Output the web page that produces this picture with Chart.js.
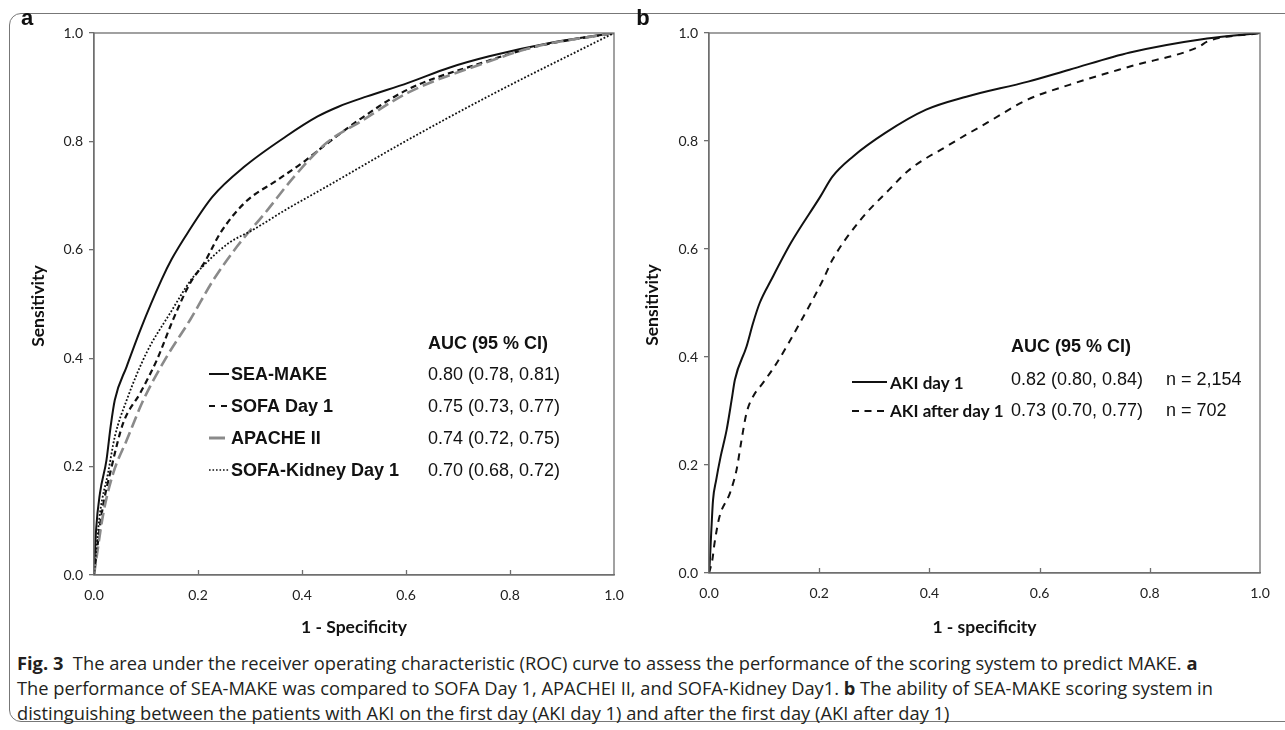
<!DOCTYPE html>
<html>
<head>
<meta charset="utf-8">
<script src="https://cdn.jsdelivr.net/npm/chart.js@4.4.0/dist/chart.umd.min.js"></script>
<style>
  html, body { margin: 0; padding: 0; background: #fff; }
  body { width: 1285px; height: 730px; position: relative; overflow: hidden; }
  #frame {
    position: absolute; left: 9px; top: 13px; width: 1320px; height: 707px;
    border: 1.5px solid #777; border-radius: 12px;
  }
  #chartA { position: absolute; left: 0; top: 0; }
  #chartB { position: absolute; left: 620px; top: 0; }
  #caption {
    position: absolute; left: 17px; top: 650px;
    font-family: "Open Sans", sans-serif; font-size: 18.3px; line-height: 25px;
    color: #231f20; white-space: nowrap;
  }
  #caption b { font-weight: 700; }
</style>
</head>
<body>
<div id="frame"></div>
<canvas id="chartA" width="630" height="640"></canvas>
<canvas id="chartB" width="665" height="640"></canvas>
<div id="caption">
  <b>Fig. 3</b>&nbsp; The area under the receiver operating characteristic (ROC) curve to assess the performance of the scoring system to predict MAKE. <b>a</b><br>
  The performance of SEA-MAKE was compared to SOFA Day 1, APACHEI II, and SOFA-Kidney Day1. <b>b</b> The ability of SEA-MAKE scoring system in<br>
  distinguishing between the patients with AKI on the first day (AKI day 1) and after the first day (AKI after day 1)
</div>
<script>
// axis ticks
const tickValues = [0, 0.2, 0.4, 0.6, 0.8, 1.0];
const tickLabels = ['0.0', '0.2', '0.4', '0.6', '0.8', '1.0'];

// panel a: ROC curves (1 - specificity, sensitivity)
const seaMakeX = [0, 0.004, 0.0115, 0.024, 0.032, 0.04, 0.063, 0.089, 0.13, 0.149, 0.18, 0.228, 0.29, 0.369, 0.43, 0.47, 0.525, 0.604, 0.683, 0.76, 0.879, 1];
const seaMakeY = [0, 0.083, 0.151, 0.212, 0.274, 0.323, 0.385, 0.452, 0.545, 0.582, 0.631, 0.698, 0.754, 0.809, 0.846, 0.864, 0.883, 0.908, 0.936, 0.957, 0.982, 1];

const sofaX = [0, 0.015, 0.034, 0.056, 0.089, 0.121, 0.152, 0.185, 0.212, 0.243, 0.29, 0.353, 0.40, 0.44, 0.51, 0.604, 0.746, 0.85, 1];
const sofaY = [0, 0.114, 0.2, 0.28, 0.336, 0.397, 0.471, 0.539, 0.576, 0.631, 0.687, 0.729, 0.76, 0.79, 0.84, 0.896, 0.945, 0.975, 1];

const apacheX = [0, 0.018, 0.037, 0.063, 0.095, 0.14, 0.185, 0.23, 0.275, 0.329, 0.385, 0.448, 0.51, 0.604, 0.746, 0.85, 1];
const apacheY = [0, 0.114, 0.188, 0.249, 0.323, 0.403, 0.471, 0.545, 0.606, 0.668, 0.735, 0.798, 0.835, 0.89, 0.943, 0.975, 1];

const kidneyX = [0, 0.0115, 0.027, 0.04, 0.063, 0.101, 0.147, 0.187, 0.215, 0.26, 0.306, 0.369, 0.448, 0.604, 0.762, 1];
const kidneyY = [0, 0.114, 0.188, 0.255, 0.323, 0.41, 0.484, 0.545, 0.575, 0.613, 0.637, 0.674, 0.717, 0.803, 0.885, 1];

// panel b
const akiDay1X = [0, 0.001, 0.004, 0.0073, 0.013, 0.021, 0.032, 0.041, 0.047, 0.068, 0.08, 0.092, 0.113, 0.149, 0.202, 0.224, 0.261, 0.32, 0.394, 0.467, 0.579, 0.654, 0.764, 0.904, 1];
const akiDay1Y = [0, 0.012, 0.074, 0.135, 0.172, 0.215, 0.265, 0.32, 0.358, 0.419, 0.463, 0.5, 0.543, 0.612, 0.697, 0.734, 0.771, 0.815, 0.858, 0.882, 0.91, 0.932, 0.964, 0.99, 1];

const akiAfterX = [0, 0.006, 0.01, 0.019, 0.038, 0.05, 0.059, 0.068, 0.08, 0.098, 0.123, 0.165, 0.207, 0.224, 0.275, 0.327, 0.364, 0.431, 0.505, 0.579, 0.654, 0.764, 0.89, 0.904, 1];
const akiAfterY = [0, 0.024, 0.055, 0.104, 0.148, 0.191, 0.246, 0.296, 0.327, 0.352, 0.389, 0.463, 0.543, 0.58, 0.654, 0.71, 0.747, 0.79, 0.834, 0.877, 0.904, 0.938, 0.975, 0.984, 1];

// legend texts
const legendA = ['SEA-MAKE', 'SOFA Day 1', 'APACHE II', 'SOFA-Kidney Day 1'];
const aucA = ['0.80 (0.78, 0.81)', '0.75 (0.73, 0.77)', '0.74 (0.72, 0.75)', '0.70 (0.68, 0.72)'];
const legendB = ['AKI day 1', 'AKI after day 1'];
const aucB = ['0.82 (0.80, 0.84)', '0.73 (0.70, 0.77)'];
const nB = ['n = 2,154', 'n = 702'];

function pts(xs, ys) {
  return xs.map((x, i) => ({ x: x, y: ys[i] }));
}

function txt(ctx, s, x, y, font, align, sx) {
  ctx.save();
  ctx.font = font;
  ctx.fillStyle = '#111';
  ctx.textBaseline = 'middle';
  ctx.textAlign = align || 'left';
  ctx.translate(x, y);
  ctx.scale(sx || 1, 1);
  ctx.fillText(s, 0, 0);
  ctx.restore();
}

function sample(ctx, x1, x2, y, color, width, dash) {
  ctx.save();
  ctx.strokeStyle = color;
  ctx.lineWidth = width;
  ctx.setLineDash(dash);
  ctx.beginPath();
  ctx.moveTo(x1, y);
  ctx.lineTo(x2, y);
  ctx.stroke();
  ctx.restore();
}

// frame, inward x ticks, titles and legend table
function decorPlugin(opts) {
  return {
    id: 'decor',
    afterDraw(chart) {
      const ctx = chart.ctx;
      const a = chart.chartArea;
      const xs = chart.scales.x;
      ctx.save();
      ctx.strokeStyle = '#6f6f6f';
      ctx.lineWidth = 1.3;
      ctx.strokeRect(a.left, a.top, a.right - a.left, a.bottom - a.top);
      ctx.beginPath();
      tickValues.slice(1, -1).forEach(v => {
        const px = Math.round(xs.getPixelForValue(v)) + 0.5;
        ctx.moveTo(px, a.bottom);
        ctx.lineTo(px, a.bottom - 5);
      });
      ctx.stroke();
      ctx.restore();

      txt(ctx, opts.letter, opts.letterX, 19, 'bold 22px "Liberation Sans"', 'center');
      // y title
      ctx.save();
      ctx.translate(opts.yTitleX, (a.top + a.bottom) / 2 + 2);
      ctx.rotate(-Math.PI / 2);
      txt(ctx, 'Sensitivity', 0, 0, 'bold 17.5px Lato', 'center');
      ctx.restore();
      txt(ctx, opts.xTitle, (a.left + a.right) / 2, 627, 'bold 17.5px Lato', 'center');
      opts.legend(ctx);
    }
  };
}

function makeChart(id, datasets, pad, yWidth, xHeight, opts) {
  return new Chart(document.getElementById(id), {
    type: 'scatter',
    data: { datasets: datasets },
    options: {
      responsive: false,
      animation: false,
      devicePixelRatio: 1,
      layout: { padding: pad },
      plugins: { legend: { display: false }, tooltip: { enabled: false } },
      elements: { point: { radius: 0 }, line: { cubicInterpolationMode: 'monotone' } },
      scales: {
        x: {
          type: 'linear', min: 0, max: 1,
          afterBuildTicks: s => { s.ticks = tickValues.map(v => ({ value: v })); },
          ticks: {
            callback: (v) => tickLabels[tickValues.indexOf(v)],
            font: { family: 'Lato', size: 14 }, color: '#222', padding: 12, maxRotation: 0
          },
          grid: { drawOnChartArea: false, drawTicks: false },
          border: { color: '#6f6f6f', width: 1.3 },
          afterFit: s => { s.height = xHeight; s.paddingLeft = 0; s.paddingRight = 0; }
        },
        y: {
          type: 'linear', min: 0, max: 1,
          afterBuildTicks: s => { s.ticks = tickValues.map(v => ({ value: v })); },
          ticks: {
            callback: (v) => tickLabels[tickValues.indexOf(v)],
            font: { family: 'Lato', size: 14 }, color: '#222', padding: 6
          },
          grid: { drawOnChartArea: false, drawTicks: true, tickLength: 5, color: '#6f6f6f', lineWidth: 1.3 },
          border: { color: '#6f6f6f', width: 1.3 },
          afterFit: s => { s.width = yWidth; s.paddingTop = 0; s.paddingBottom = 0; }
        }
      }
    },
    plugins: [decorPlugin(opts)]
  });
}

const lineA = { showLine: true, fill: false, pointRadius: 0 };

makeChart('chartA', [
  Object.assign({ label: legendA[3], data: pts(kidneyX, kidneyY), borderColor: '#111', borderWidth: 1.8, borderDash: [1.8, 1.9] }, lineA),
  Object.assign({ label: legendA[2], data: pts(apacheX, apacheY), borderColor: '#8a8a8a', borderWidth: 2.6, borderDash: [12, 5] }, lineA),
  Object.assign({ label: legendA[1], data: pts(sofaX, sofaY), borderColor: '#111', borderWidth: 2.2, borderDash: [6, 4] }, lineA),
  Object.assign({ label: legendA[0], data: pts(seaMakeX, seaMakeY), borderColor: '#111', borderWidth: 2 }, lineA)
], { left: 0, top: 33, right: 16, bottom: 0 }, 94, 65, {
  letter: 'a', letterX: 27, yTitleX: 38, xTitle: '1 - Specificity',
  legend(ctx) {
    const rows = [374, 406, 438, 470];
    txt(ctx, 'AUC (95 % CI)', 428, 344, 'bold 18px "Liberation Sans"');
    sample(ctx, 209, 229, rows[0], '#111', 2, []);
    sample(ctx, 209, 229, rows[1], '#111', 2, [6, 6]);
    sample(ctx, 209, 225, rows[2], '#8a8a8a', 3, []);
    sample(ctx, 209, 229, rows[3], '#111', 1.6, [1.6, 1.9]);
    rows.forEach((y, i) => {
      txt(ctx, legendA[i], 231, y + 1, 'bold 18px "Liberation Sans"');
      txt(ctx, aucA[i], 428, y + 1, '18px "Liberation Sans"');
    });
  }
});

const offB = 620;
makeChart('chartB', [
  Object.assign({ label: legendB[1], data: pts(akiAfterX, akiAfterY), borderColor: '#111', borderWidth: 2, borderDash: [7, 6] }, lineA),
  Object.assign({ label: legendB[0], data: pts(akiDay1X, akiDay1Y), borderColor: '#111', borderWidth: 2 }, lineA)
], { left: 0, top: 33, right: 25, bottom: 0 }, 89, 67, {
  letter: 'b', letterX: 643 - offB, yTitleX: 652 - offB, xTitle: '1 - specificity',
  legend(ctx) {
    txt(ctx, 'AUC (95 % CI)', 1011 - offB, 347, 'bold 18px "Liberation Sans"');
    sample(ctx, 852 - offB, 887 - offB, 382, '#111', 2, []);
    sample(ctx, 852 - offB, 887 - offB, 411, '#111', 2, [7, 5.5]);
    txt(ctx, legendB[0], 890 - offB, 384, 'bold 17px Lato');
    txt(ctx, legendB[1], 890 - offB, 412, 'bold 17px Lato');
    txt(ctx, aucB[0], 1011 - offB, 380, '18px "Liberation Sans"');
    txt(ctx, aucB[1], 1011 - offB, 411, '18px "Liberation Sans"');
    txt(ctx, nB[0], 1166 - offB, 380, '18px "Liberation Sans"');
    txt(ctx, nB[1], 1166 - offB, 411, '18px "Liberation Sans"');
  }
});
</script>
</body>
</html>
